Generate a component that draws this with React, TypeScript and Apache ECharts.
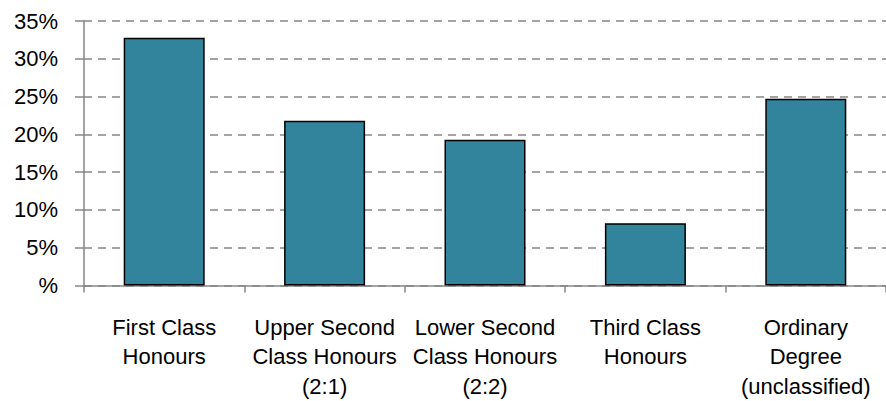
import React, { useEffect, useRef } from "react";
import * as echarts from "echarts";

const categories: string[] = [
  "First Class\nHonours",
  "Upper Second\nClass Honours\n(2:1)",
  "Lower Second\nClass Honours\n(2:2)",
  "Third Class\nHonours",
  "Ordinary\nDegree\n(unclassified)",
];
const values: number[] = [32.8, 21.8, 19.3, 8.25, 24.7];
const yTicks: number[] = [0, 5, 10, 15, 20, 25, 30, 35];

const FONT = "'Liberation Sans', Arial, sans-serif";
const GRAY = "#868686";

export default function App() {
  const ref = useRef<HTMLDivElement>(null);
  useEffect(() => {
    if (!ref.current) return;
    const chart = echarts.init(ref.current, undefined, { renderer: "svg" });
    chart.setOption({
      animation: false,
      backgroundColor: "#ffffff",
      grid: { left: 84, right: -7, top: 21, bottom: 115.3, containLabel: false },
      xAxis: {
        type: "category",
        data: categories,
        axisLine: { show: true, lineStyle: { color: GRAY, width: 1.5 } },
        axisTick: { show: true, length: 7, lineStyle: { color: GRAY, width: 1.5 } },
        axisLabel: {
          interval: 0,
          margin: 27,
          color: "#000",
          fontFamily: FONT,
          fontSize: 22,
          lineHeight: 29.5,
          align: "center",
        },
        splitLine: { show: false },
      },
      yAxis: {
        type: "value",
        min: yTicks[0],
        max: yTicks[yTicks.length - 1],
        interval: 5,
        axisLine: { show: true, lineStyle: { color: GRAY, width: 1.5 } },
        axisTick: { show: true, length: 9, lineStyle: { color: GRAY, width: 1.5 } },
        axisLabel: {
          margin: 26,
          color: "#000",
          fontFamily: FONT,
          fontSize: 22,
          formatter: (v: number) => (v === 0 ? "%" : `${v}%`),
        },
        splitLine: {
          show: true,
          lineStyle: { color: GRAY, width: 1.5, type: [8, 6] },
        },
      },
      series: [
        {
          type: "bar",
          data: values,
          barWidth: 81,
          itemStyle: { color: "#31849B", borderColor: "#000", borderWidth: 1.5 },
        },
      ],
    });
    return () => chart.dispose();
  }, []);
  return (
    <div
      ref={ref}
      style={{ position: "absolute", left: 0, top: 0, width: 886, height: 401 }}
    />
  );
}
